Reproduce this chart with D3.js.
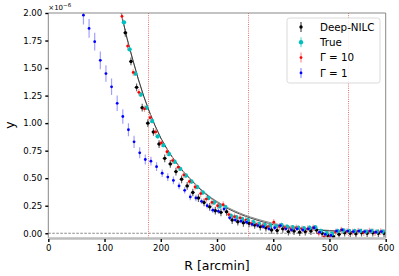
<!doctype html>
<head>
  <meta charset="utf-8">
  <script src="https://cdnjs.cloudflare.com/ajax/libs/d3/7.8.2/d3.min.js"></script>
</head>
<style>
    body { margin: 0; background: white; }
    svg { font-family: "DejaVu Sans", sans-serif; display: block; }
</style>
<body>
    <div id="chart"></div>
    <script>
        // bin centres [arcmin]
        const bins = [135, 145, 155, 165, 175, 185, 195, 205, 215, 225, 235, 245, 255, 265, 275, 285, 295, 305, 315, 325,
            335, 345, 355, 365, 375, 385, 395, 405, 415, 425, 435, 445, 455, 465, 475, 485, 495, 505, 515, 525,
            535, 545, 555, 565, 575, 585, 595];
        const binsBlue = [65, 75, 85, 95, 105, 115, 125].concat(bins);

        // y values, units of 1e-6
        const deepNilc = [1.82, 1.56, 1.325, 1.14, 1.00, 0.92, 0.81, 0.68, 0.63, 0.56, 0.49, 0.43, 0.37, 0.32, 0.28, 0.24, 0.205, 0.19, 0.195, 0.12,
            0.105, 0.095, 0.09, 0.075, 0.06, 0.05, 0.03, 0.025, 0.04, 0.015, 0.02, 0.01, 0.015, 0.02, 0.03, 0.0, -0.02, -0.03, -0.01, 0.005,
            0.0, -0.005, 0.005, 0.0, 0.005, 0.0, 0.0];
        const trueVals = [1.915, 1.67, 1.45, 1.26, 1.14, 1.02, 0.88, 0.80, 0.72, 0.65, 0.585, 0.525, 0.47, 0.42, 0.37, 0.32, 0.28, 0.245, 0.24, 0.16,
            0.145, 0.13, 0.12, 0.10, 0.085, 0.075, 0.07, 0.065, 0.075, 0.06, 0.055, 0.05, 0.045, 0.05, 0.055, 0.02, 0.0, -0.005, 0.02, 0.025,
            0.02, 0.02, 0.02, 0.015, 0.02, 0.015, 0.015];
        const gamma10 = [1.97, 1.70, 1.46, 1.28, 1.13, 1.05, 0.92, 0.82, 0.74, 0.66, 0.60, 0.53, 0.47, 0.42, 0.36, 0.31, 0.28, 0.25, 0.26, 0.17,
            0.15, 0.14, 0.12, 0.09, 0.08, 0.07, 0.06, 0.10, 0.06, 0.05, 0.04, 0.05, 0.04, 0.04, 0.05, 0.0, -0.03, -0.03, 0.01, 0.03,
            0.015, 0.01, 0.02, 0.005, 0.02, 0.005, 0.015];
        const gamma1 = [1.98, 1.86, 1.74, 1.57, 1.45, 1.33, 1.18,
            1.06, 0.94, 0.83, 0.73, 0.67, 0.655, 0.605, 0.545, 0.51, 0.48, 0.43, 0.39, 0.33, 0.32, 0.29, 0.25, 0.21, 0.20, 0.22, 0.14,
            0.12, 0.11, 0.10, 0.08, 0.07, 0.06, 0.04, 0.05, 0.07, 0.04, 0.03, 0.04, 0.03, 0.04, 0.05, 0.01, -0.01, -0.02, 0.02, 0.03,
            0.02, 0.015, 0.02, 0.015, 0.02, 0.01, 0.015];
        const gamma1Err = [0.085, 0.085, 0.08, 0.08, 0.075, 0.075, 0.07,
            0.065, 0.06, 0.055, 0.05, 0.045, 0.04, 0.04, 0.035, 0.035, 0.035, 0.03, 0.03, 0.03, 0.03, 0.025, 0.025, 0.025, 0.025, 0.025, 0.02,
            0.02, 0.02, 0.02, 0.02, 0.02, 0.02, 0.02, 0.02, 0.02, 0.02, 0.02, 0.02, 0.02, 0.02, 0.02, 0.02, 0.02, 0.02, 0.02, 0.02,
            0.02, 0.02, 0.02, 0.02, 0.02, 0.02, 0.02];

        // model profiles
        const modelR = [120, 130, 140, 150, 160, 170, 180, 190, 200, 210, 220, 230, 240, 250, 260, 270, 280, 290, 300, 310,
            320, 330, 340, 350, 360, 380, 400, 420, 440, 460, 480, 500, 530, 560, 600];
        const modelA = [2.25, 1.99, 1.77, 1.58, 1.40, 1.24, 1.10, 0.975, 0.865, 0.775, 0.695, 0.625, 0.56, 0.505, 0.45, 0.40, 0.355, 0.315, 0.28, 0.25,
            0.222, 0.197, 0.175, 0.155, 0.137, 0.105, 0.078, 0.06, 0.046, 0.036, 0.028, 0.021, 0.015, 0.011, 0.007];
        const modelB = [2.25, 1.99, 1.77, 1.58, 1.40, 1.24, 1.10, 0.975, 0.865, 0.775, 0.695, 0.625, 0.562, 0.508, 0.455, 0.406, 0.362, 0.323, 0.289, 0.259,
            0.232, 0.207, 0.185, 0.165, 0.147, 0.116, 0.09, 0.07, 0.054, 0.042, 0.033, 0.026, 0.018, 0.013, 0.009];

        const vlines = [177.5, 355, 532.5];
        const xTicks = [0, 100, 200, 300, 400, 500, 600];
        const yTicks = [0, 0.25, 0.5, 0.75, 1.0, 1.25, 1.5, 1.75, 2.0];

        const series = [
            {name: "Deep-NILC", x: bins, y: deepNilc, err: bins.map(() => 0.035), dx: 2, color: "#000000", bar: "#666666", r: 1.7},
            {name: "True", x: bins, y: trueVals, err: bins.map(() => 0.02), dx: -0.5, color: "#00bfbf", bar: "#7fdfdf", r: 2.2},
            {name: "Γ = 10", x: bins, y: gamma10, err: bins.map(() => 0.03), dx: -4, color: "#ff0000", bar: "#ffa0a0", r: 1.4},
            {name: "Γ = 1", x: binsBlue, y: gamma1, err: gamma1Err, dx: -2.5, color: "#0000ff", bar: "#a0a0ff", r: 1.4},
        ];

        const width = 399, height = 276;
        const x0 = 48.3, x1 = 385.7, yTop = 13, yBot = 238;

        const svg = d3.select('#chart').append('svg')
            .attr('width', width).attr('height', height);

        const x = d3.scaleLinear().domain([0, 600]).range([x0, x1]);
        const y = d3.scaleLinear().domain([-0.043, 2.0]).range([yBot, yTop]);

        svg.append('clipPath').attr('id', 'clip')
            .append('rect').attr('x', x0).attr('y', yTop).attr('width', x1 - x0).attr('height', yBot - yTop);

        const plot = svg.append('g').attr('clip-path', 'url(#clip)');

        // zero line
        plot.append('line')
            .attr('x1', x0).attr('x2', x1).attr('y1', y(0)).attr('y2', y(0))
            .attr('stroke', '#555').attr('stroke-width', 0.7).attr('stroke-dasharray', '2.5,1.5');

        // vertical dotted lines
        plot.selectAll('.vline').data(vlines).enter().append('line')
            .attr('x1', (d) => Math.round(x(d)) + 0.5).attr('x2', (d) => Math.round(x(d)) + 0.5).attr('y1', yTop).attr('y2', yBot)
            .attr('stroke', '#ee7070').attr('stroke-width', 1).attr('stroke-dasharray', '1,1.2');

        // model lines
        const lineB = d3.line().x((d, i) => x(modelR[i])).y((d) => y(d));
        plot.append('path').datum(modelB).attr('d', lineB)
            .attr('fill', 'none').attr('stroke', '#8a8a8a').attr('stroke-width', 1);
        plot.append('path').datum(modelA).attr('d', lineB)
            .attr('fill', 'none').attr('stroke', '#333').attr('stroke-width', 0.9);

        // error bars + markers
        series.forEach((s) => {
            const pts = s.x.map((r, i) => ({r: r + s.dx, v: s.y[i], e: s.err[i]}));
            const g = plot.append('g');
            g.selectAll('line').data(pts).enter().append('line')
                .attr('x1', (d) => x(d.r)).attr('x2', (d) => x(d.r))
                .attr('y1', (d) => y(d.v - d.e)).attr('y2', (d) => y(d.v + d.e))
                .attr('stroke', s.bar).attr('stroke-width', 1.2);
            if (s.name === "Deep-NILC") {
                g.selectAll('.h').data(pts).enter().append('line')
                    .attr('x1', (d) => x(d.r) - 2).attr('x2', (d) => x(d.r) + 2)
                    .attr('y1', (d) => y(d.v)).attr('y2', (d) => y(d.v))
                    .attr('stroke', '#444').attr('stroke-width', 0.8);
            }
            g.selectAll('circle').data(pts).enter().append('circle')
                .attr('cx', (d) => x(d.r)).attr('cy', (d) => y(d.v)).attr('r', s.r)
                .attr('fill', s.color);
        });

        // spines
        svg.append('line').attr('x1', x0).attr('x2', x1).attr('y1', yTop).attr('y2', yTop)
            .attr('stroke', '#888').attr('stroke-width', 1);
        svg.append('line').attr('x1', x1).attr('x2', x1).attr('y1', yTop).attr('y2', yBot)
            .attr('stroke', '#888').attr('stroke-width', 1);
        svg.append('line').attr('x1', x0).attr('x2', x0).attr('y1', yTop).attr('y2', yBot)
            .attr('stroke', '#888').attr('stroke-width', 1);
        svg.append('line').attr('x1', x0).attr('x2', x1).attr('y1', yBot + 0.5).attr('y2', yBot + 0.5)
            .attr('stroke', '#bdbdbd').attr('stroke-width', 2.6);

        // axes
        const xAxis = svg.append('g').attr('transform', `translate(0,${yBot + 1})`)
            .call(d3.axisBottom(x).tickValues(xTicks).tickSize(3).tickPadding(3).tickFormat(d3.format('d')));
        const yAxis = svg.append('g').attr('transform', `translate(${x0},0)`)
            .call(d3.axisLeft(y).tickValues(yTicks).tickSize(3).tickPadding(3).tickFormat(d3.format('.2f')));
        [xAxis, yAxis].forEach((a) => {
            a.select('.domain').remove();
            a.selectAll('.tick line').attr('stroke', '#000').attr('stroke-width', 1.4);
            a.selectAll('.tick text').attr('fill', '#000').attr('font-size', 8.6)
                .attr('font-family', '"DejaVu Sans", sans-serif');
        });

        // axis labels
        svg.append('text').attr('x', (x0 + x1) / 2).attr('y', 270).attr('text-anchor', 'middle')
            .attr('font-size', 12.5).text('R [arcmin]');
        svg.append('text').attr('transform', `translate(14,125) rotate(-90)`).attr('text-anchor', 'middle')
            .attr('font-size', 12.5).text('y');
        const off = svg.append('text').attr('x', x0).attr('y', 10).attr('font-size', 7);
        off.append('tspan').text('×10');
        off.append('tspan').attr('dy', -3).attr('font-size', 5.5).text('−6');

        // legend
        const leg = svg.append('g');
        leg.append('rect').attr('x', 287).attr('y', 18).attr('width', 93).attr('height', 65).attr('rx', 2.5)
            .attr('fill', 'white').attr('fill-opacity', 0.85).attr('stroke', '#d0d0d0').attr('stroke-width', 0.8);
        series.forEach((s, i) => {
            const cy = 27 + i * 15.3;
            leg.append('line').attr('x1', 301).attr('x2', 301).attr('y1', cy - 5).attr('y2', cy + 5)
                .attr('stroke', s.bar).attr('stroke-width', 1.4);
            leg.append('circle').attr('cx', 301).attr('cy', cy).attr('r', s.r).attr('fill', s.color);
            leg.append('text').attr('x', 320).attr('y', cy + 3.7).attr('font-size', 10.3).text(s.name);
        });
    </script>
</body>
